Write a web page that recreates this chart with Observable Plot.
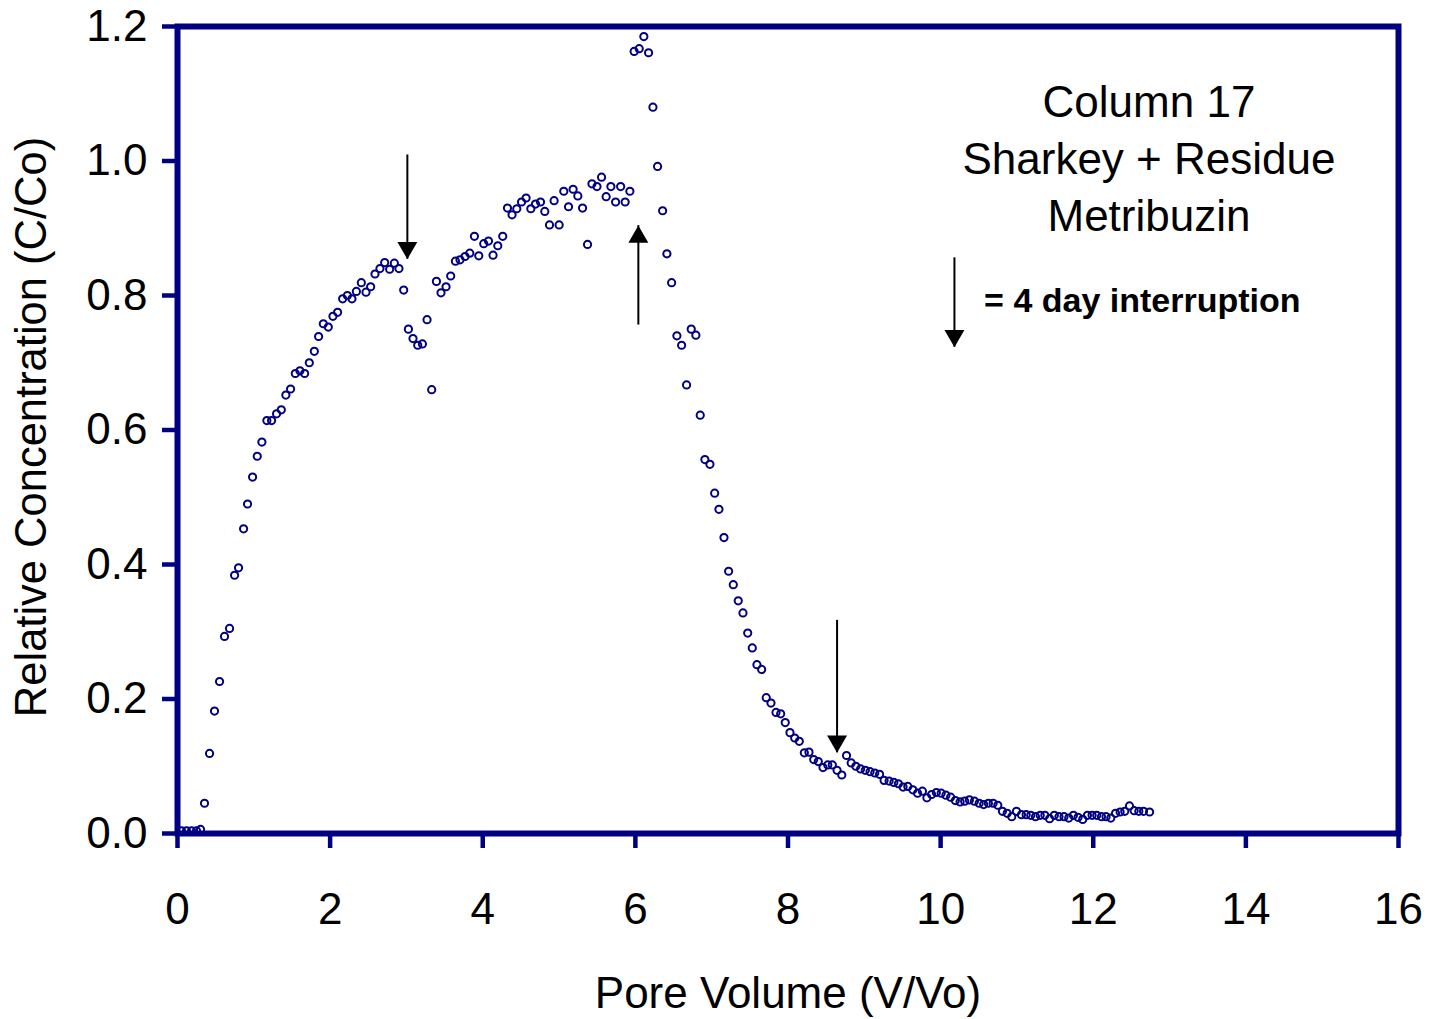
<!DOCTYPE html>
<html>
<head>
<meta charset="utf-8">
<script src="https://cdn.jsdelivr.net/npm/d3@7"></script>
<script src="https://cdn.jsdelivr.net/npm/@observablehq/plot@0.6"></script>
<style>
  html, body { margin: 0; padding: 0; background: #fff; }
  #chart { width: 1429px; height: 1019px; }
  svg { font-family: "Liberation Sans", Arial, sans-serif; }
</style>
</head>
<body>
<div id="chart"></div>
<script>
// Pore volume (V/Vo)
const pv = [
  0.052, 0.118, 0.184, 0.249, 0.302, 0.354, 0.420, 0.485, 0.551, 0.616,
  0.682, 0.748, 0.800, 0.866, 0.918, 0.984, 1.045, 1.106, 1.171, 1.233,
  1.298, 1.360, 1.420, 1.482, 1.544, 1.604, 1.666, 1.727, 1.793, 1.849,
  1.911, 1.976, 2.037, 2.098, 2.164, 2.226, 2.286, 2.344, 2.409, 2.470,
  2.531, 2.588, 2.653, 2.715, 2.780, 2.842, 2.902, 2.964, 3.026, 3.086,
  3.148, 3.209, 3.270, 3.331, 3.393, 3.453, 3.519, 3.580, 3.642, 3.702,
  3.768, 3.830, 3.891, 3.948, 4.013, 4.075, 4.135, 4.197, 4.262, 4.324,
  4.384, 4.446, 4.508, 4.568, 4.630, 4.691, 4.757, 4.813, 4.875, 4.935,
  5.001, 5.062, 5.124, 5.184, 5.246, 5.308, 5.373, 5.431, 5.497, 5.557,
  5.617, 5.679, 5.741, 5.807, 5.866, 5.928, 5.984, 6.050, 6.111, 6.173,
  6.230, 6.291, 6.357, 6.413, 6.475, 6.544, 6.606, 6.671, 6.732, 6.793,
  6.850, 6.911, 6.977, 7.039, 7.095, 7.161, 7.222, 7.283, 7.348, 7.410,
  7.472, 7.532, 7.593, 7.655, 7.715, 7.777, 7.843, 7.904, 7.964, 8.026,
  8.088, 8.148, 8.214, 8.275, 8.337, 8.397, 8.459, 8.521, 8.581, 8.643,
  8.705, 8.767, 8.828, 8.889, 8.951, 9.013, 9.075, 9.137, 9.200, 9.259,
  9.325, 9.387, 9.447, 9.508, 9.570, 9.636, 9.698, 9.761, 9.820, 9.882,
  9.944, 10.007, 10.069, 10.131, 10.193, 10.255, 10.315, 10.377, 10.443, 10.505,
  10.564, 10.626, 10.688, 10.749, 10.810, 10.872, 10.932, 10.994, 11.059, 11.121,
  11.181, 11.243, 11.305, 11.366, 11.428, 11.490, 11.551, 11.617, 11.679, 11.740,
  11.801, 11.862, 11.924, 11.985, 12.046, 12.108, 12.168, 12.230, 12.292, 12.352,
  12.413, 12.475, 12.536, 12.597, 12.659, 12.738
];
// Relative concentration (C/Co)
const conc = [
  0.004, 0.004, 0.004, 0.004, 0.006, 0.045, 0.119, 0.182, 0.226, 0.293,
  0.305, 0.384, 0.395, 0.453, 0.490, 0.530, 0.561, 0.582, 0.614, 0.614,
  0.624, 0.630, 0.652, 0.661, 0.684, 0.688, 0.684, 0.700, 0.717, 0.739,
  0.758, 0.753, 0.769, 0.775, 0.795, 0.800, 0.795, 0.806, 0.819, 0.805,
  0.813, 0.832, 0.840, 0.849, 0.839, 0.848, 0.840, 0.808, 0.750, 0.736,
  0.726, 0.728, 0.764, 0.660, 0.821, 0.804, 0.813, 0.829, 0.851, 0.853,
  0.858, 0.863, 0.888, 0.859, 0.877, 0.881, 0.860, 0.874, 0.888, 0.930,
  0.920, 0.929, 0.939, 0.945, 0.929, 0.936, 0.939, 0.925, 0.905, 0.941,
  0.905, 0.955, 0.932, 0.958, 0.948, 0.930, 0.876, 0.966, 0.962, 0.976,
  0.947, 0.962, 0.939, 0.962, 0.939, 0.955, 1.163, 1.167, 1.185, 1.161,
  1.080, 0.992, 0.926, 0.862, 0.819, 0.740, 0.726, 0.667, 0.750, 0.741,
  0.622, 0.556, 0.549, 0.506, 0.482, 0.440, 0.390, 0.370, 0.346, 0.328,
  0.298, 0.276, 0.251, 0.244, 0.202, 0.194, 0.180, 0.178, 0.165, 0.150,
  0.142, 0.137, 0.120, 0.121, 0.110, 0.107, 0.098, 0.102, 0.102, 0.094,
  0.087, 0.116, 0.105, 0.100, 0.096, 0.094, 0.092, 0.090, 0.088, 0.079,
  0.078, 0.076, 0.074, 0.069, 0.070, 0.065, 0.060, 0.063, 0.053, 0.058,
  0.061, 0.060, 0.057, 0.054, 0.049, 0.047, 0.048, 0.050, 0.048, 0.045,
  0.043, 0.045, 0.045, 0.042, 0.033, 0.030, 0.025, 0.033, 0.028, 0.028,
  0.027, 0.025, 0.027, 0.027, 0.022, 0.027, 0.025, 0.025, 0.023, 0.027,
  0.024, 0.021, 0.027, 0.027, 0.027, 0.025, 0.025, 0.023, 0.030, 0.032,
  0.033, 0.041, 0.034, 0.033, 0.033, 0.032
];

// Interruption arrows
const arrowX    = [3.012, 6.039, 8.643, 10.181];
const arrowTail = [1.009, 0.756, 0.317, 0.856];
const arrowTip  = [0.854, 0.904, 0.120, 0.723];

// Tick values
const xTicks = [0, 2, 4, 6, 8, 10, 12, 14, 16];
const yTicks = [0, 0.2, 0.4, 0.6, 0.8, 1.0, 1.2];

// Annotation
const titleLines = ["Column 17", "Sharkey + Residue", "Metribuzin"];
const titleY = [1.087, 1.002, 0.917];
const titleX = 12.73;
const legendText = "= 4 day interruption";
const legendX = 10.57, legendY = 0.792;

const xLabel = "Pore Volume (V/Vo)";
const yLabel = "Relative Concentration (C/Co)";

const points = pv.map((x, i) => ({x, y: conc[i]}));
const arrows = arrowX.map((x, i) => ({x, tail: arrowTail[i], tip: arrowTip[i], down: arrowTip[i] < arrowTail[i]}));
const titles = titleLines.map((t, i) => ({t, x: titleX, y: titleY[i]}));

const navy = "#000080";

const chart = Plot.plot({
  width: 1429,
  height: 1019,
  marginLeft: 177,
  marginRight: 31,
  marginTop: 26,
  marginBottom: 186,
  style: {fontFamily: '"Liberation Sans", Arial, sans-serif', background: "white", color: "black"},
  x: {domain: [0, 16]},
  y: {domain: [0, 1.2]},
  marks: [
    Plot.axisX({ticks: xTicks, tickSize: 15, tickPadding: 44, stroke: navy, strokeWidth: 4.5, fill: "black", fontSize: 44, label: null}),
    Plot.axisY({ticks: yTicks, tickSize: 15, tickPadding: 15, stroke: navy, strokeWidth: 4.5, fill: "black", fontSize: 44, tickFormat: d3.format(".1f"), label: null}),
    Plot.dot(points, {x: "x", y: "y", r: 3.6, stroke: navy, strokeWidth: 2, fill: "none"}),
    Plot.ruleX(arrows, {x: "x", y1: "tail", y2: "tip", stroke: "black", strokeWidth: 2}),
    Plot.dot(arrows.filter(d => d.down), {x: "x", y: "tip", symbol: "triangle", r: 7.4, fill: "black", stroke: null, rotate: 180, dy: -11.5}),
    Plot.dot(arrows.filter(d => !d.down), {x: "x", y: "tip", symbol: "triangle", r: 7.4, fill: "black", stroke: null, dy: 11.5}),
    Plot.text(titles, {x: "x", y: "y", text: "t", fontSize: 44, fill: "black", textAnchor: "middle", lineAnchor: "middle"}),
    Plot.text([legendText], {x: legendX, y: legendY, text: d => d, fontSize: 34, fontWeight: "bold", fill: "black", textAnchor: "start", lineAnchor: "middle"}),
    Plot.text([xLabel], {frameAnchor: "bottom", text: d => d, fontSize: 44, fill: "black", dy: 160, textAnchor: "middle", lineAnchor: "middle"}),
    Plot.text([yLabel], {frameAnchor: "left", text: d => d, fontSize: 43.5, fill: "black", rotate: -90, dx: -145, dy: -3, textAnchor: "middle", lineAnchor: "middle"}),
    Plot.frame({stroke: navy, strokeWidth: 6})
  ]
});
document.getElementById("chart").appendChild(chart);
</script>
</body>
</html>
